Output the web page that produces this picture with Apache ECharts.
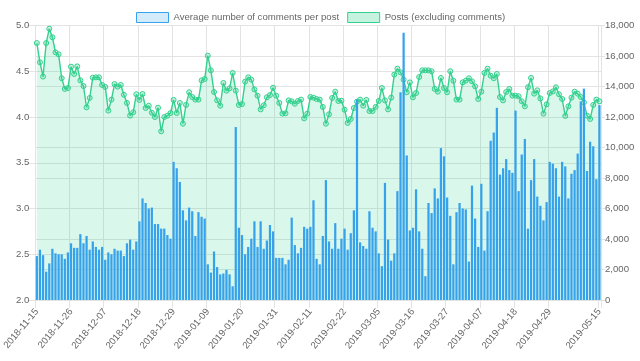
<!DOCTYPE html>
<html><head><meta charset="utf-8">
<script src="https://cdn.jsdelivr.net/npm/echarts@6/dist/echarts.min.js"></script>
<style>html,body{margin:0;padding:0;background:#fff}#c{width:640px;height:361px}</style>
</head><body><div id="c"></div>
<script>
var startDate = '2018-11-15';
var dayCount = 182;

var avgComments = [
2.48,2.55,2.49,2.31,2.40,2.56,2.51,2.50,2.50,2.45,2.52,2.62,2.57,2.57,2.72,2.62,2.70,2.55,2.64,2.58,2.55,2.58,2.44,2.52,2.50,2.56,2.54,2.54,2.48,2.62,2.66,2.55,2.64,2.86,3.11,3.06,3.00,3.01,2.83,2.83,2.78,2.78,2.71,2.67,3.51,3.44,
3.29,2.98,2.87,3.01,2.97,2.70,2.96,2.91,2.89,2.39,2.30,2.53,2.36,2.28,2.29,2.33,2.28,2.15,3.89,2.79,2.71,2.50,2.58,2.67,2.86,2.58,2.86,2.56,2.65,2.82,2.75,2.46,2.46,2.46,2.39,2.44,2.90,2.60,2.51,2.57,2.80,2.78,2.80,3.09,2.45,2.39,
2.70,3.31,2.64,2.56,2.84,2.56,2.67,2.78,2.55,2.73,2.98,4.19,2.63,2.59,2.56,2.97,2.79,2.75,2.51,2.37,3.28,2.66,2.43,2.51,3.19,4.27,4.92,3.58,2.76,2.79,3.21,2.75,2.56,2.26,3.06,2.95,3.22,3.11,3.66,3.57,3.12,2.92,2.39,2.96,3.06,3.00,
2.99,2.42,3.25,2.89,2.58,3.27,2.54,2.97,3.74,3.83,4.10,3.37,3.44,3.54,3.42,3.39,4.07,3.19,3.59,3.76,2.78,3.31,3.54,3.13,3.03,2.87,3.07,3.51,3.49,3.44,3.13,3.51,3.46,3.11,3.38,3.42,3.60,4.17,4.31,3.41,3.73,3.68,3.32,4.13
];

var posts = [
16850,15590,14650,16850,17790,17230,16240,16110,14540,13840,13900,15300,14820,15320,14400,14030,12630,13250,14580,14600,14600,14100,13970,12420,13140,14160,13990,14100,13460,12920,12090,12310,13490,13120,13510,12590,12740,12280,12000,12610,11060,12000,12090,12260,13120,12260,
12920,11560,12790,13620,13310,13140,13140,14400,14490,16020,15060,13640,13090,12740,14230,13730,13880,14890,13730,12790,12850,14320,14600,14450,13810,13400,12500,12770,13290,13440,13920,13400,12920,12220,12240,13090,13030,12870,13050,13140,11910,12220,13310,13270,13180,13140,
12660,11560,12180,13250,13660,13050,13070,12480,11610,11870,12590,13010,13140,12740,13120,12390,12390,12660,13050,13900,13090,12500,13270,14780,15170,14930,14450,13620,14270,13290,13570,14620,15060,15060,15060,15000,13840,13660,14560,13900,13620,15000,14380,13140,13140,14270,
14380,14540,14340,14010,13180,13660,14890,15170,14710,14540,14820,13310,13090,13640,13840,13400,13400,13360,13030,12700,13950,14560,13530,13750,13220,12220,12830,13570,13680,13950,13490,13180,12070,12700,13270,13660,13530,13310,12960,12090,11870,12790,13140,13030
];

var leftTicks = {min: 2.0, max: 5.0, step: 0.5};
var rightTicks = {min: 0, max: 18000, step: 2000};
var labelEvery = 11;

var seriesNames = ['Average number of comments per post', 'Posts (excluding comments)'];

// build categories (dates)
var dates = [];
(function(){
  var p = startDate.split('-');
  var t = Date.UTC(+p[0], +p[1]-1, +p[2]);
  for (var i = 0; i < dayCount; i++) {
    var d = new Date(t + i*86400000);
    var m = d.getUTCMonth()+1, dd = d.getUTCDate();
    dates.push(d.getUTCFullYear() + '-' + (m<10?'0':'') + m + '-' + (dd<10?'0':'') + dd);
  }
})();
var lastIdx = dates.length - 1;
function shown(i){ return (i % labelEvery === 0 && i <= lastIdx - labelEvery) || i === lastIdx; }

var FONT = '"Liberation Sans", Arial, Helvetica, sans-serif';
var GRID = '#e3e3e3';
var BLUE = '#36a2eb';
var GREEN = '#34d08e';

var chart = echarts.init(document.getElementById('c'), null, {renderer: 'canvas'});
chart.setOption({
  animation: false,
  textStyle: {fontFamily: FONT},
  legend: {
    left: 131, top: 7, itemWidth: 32, itemHeight: 10, itemGap: 8,
    textStyle: {fontSize: 9.6, color: '#666', fontFamily: FONT},
    data: [
      {name: seriesNames[0], icon: 'rect', itemStyle: {color: 'rgba(54,162,235,0.22)', borderColor: BLUE, borderWidth: 1}},
      {name: seriesNames[1], icon: 'rect', itemStyle: {color: 'rgba(52,208,142,0.28)', borderColor: GREEN, borderWidth: 1}}
    ]
  },
  grid: {left: 33, right: 39, top: 25.5, bottom: 61, containLabel: false},
  xAxis: {
    type: 'category', data: dates, boundaryGap: true,
    axisLine: {show: true, lineStyle: {color: GRID}},
    axisTick: {show: true, length: 8, interval: function(i){ return shown(i); }, lineStyle: {color: GRID}},
    splitLine: {show: true, interval: function(i){ return shown(i); }, lineStyle: {color: GRID}},
    axisLabel: {interval: function(i){ return shown(i); }, rotate: 50, fontSize: 9.6, color: '#666', fontFamily: FONT, margin: 10}
  },
  yAxis: [
    {type: 'value', position: 'left', min: leftTicks.min, max: leftTicks.max, interval: leftTicks.step, startValue: leftTicks.min,
     axisLine: {show: true, lineStyle: {color: GRID}},
     axisTick: {show: true, length: 8, lineStyle: {color: GRID}},
     splitLine: {show: true, lineStyle: {color: GRID}},
     axisLabel: {formatter: function(v){ return v.toFixed(1); }, fontSize: 9.6, color: '#666', fontFamily: FONT, margin: 6}},
    {type: 'value', position: 'right', min: rightTicks.min, max: rightTicks.max, interval: rightTicks.step,
     axisLine: {show: true, lineStyle: {color: GRID}},
     axisTick: {show: true, length: 4, lineStyle: {color: GRID}},
     splitLine: {show: true, lineStyle: {color: GRID}},
     axisLabel: {fontSize: 9.6, color: '#666', fontFamily: FONT, margin: 4}}
  ],
  series: [
    {name: seriesNames[1], type: 'line', yAxisIndex: 1, data: posts, z: 2,
     symbol: 'circle', symbolSize: 5, showAllSymbol: true,
     lineStyle: {color: GREEN, width: 1.4},
     itemStyle: {color: 'rgba(52,208,142,0.28)', borderColor: GREEN, borderWidth: 1},
     areaStyle: {color: 'rgba(52,208,142,0.26)'}},
    {name: seriesNames[0], type: 'bar', yAxisIndex: 0, data: avgComments, z: 3,
     barWidth: '72%', itemStyle: {color: BLUE}}
  ]
});
</script>
</body></html>
